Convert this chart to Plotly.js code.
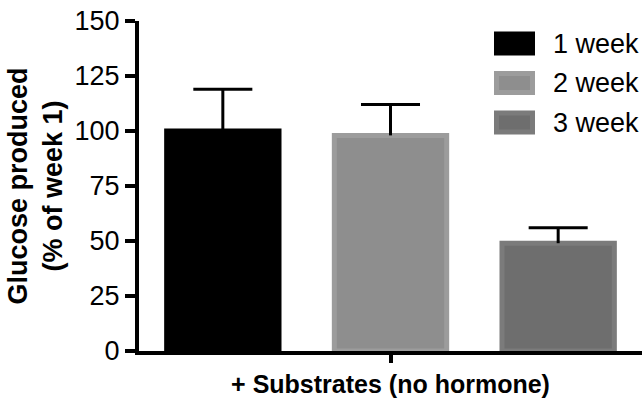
<!DOCTYPE html>
<html>
<head>
<meta charset="utf-8">
<script src="https://cdn.plot.ly/plotly-3.0.1.min.js"></script>
<style>html,body{margin:0;padding:0;background:#fff;}#chart{width:643px;height:399px;}</style>
</head>
<body>
<div id="chart"></div>
<script>
// ---- data ----
const weeks = ['1 week', '2 week', '3 week'];
const glucose = [100, 98, 49];          // % of week 1
const sem = [19, 14, 7];                // upper error
const groupLabels = ['+ Substrates (no hormone)'];
const yTickVals = [0, 25, 50, 75, 100, 125, 150];

// ---- styles ----
const FONT = '"Liberation Sans", Arial, sans-serif';
const fills = ['#000000', '#8e8e8e', '#6e6e6e'];
const borders = ['#000000', '#9c9c9c', '#7b7b7b'];
const W = 643, H = 399;
const M = {l: 139, r: 1, t: 21, b: 48};
const plotW = W - M.l - M.r, plotH = H - M.t - M.b;
const barWidth = 0.67;
const capHalf = 0.176;

const xs = weeks.map((_, i) => i);

const bars = {
  type: 'bar',
  x: xs,
  y: glucose,
  width: barWidth,
  marker: {color: fills, line: {color: borders, width: 5}},
  showlegend: false,
  hoverinfo: 'skip'
};

// error bars (upper only): stem + cap built from the data
const ex = [], ey = [];
xs.forEach((x, i) => {
  const top = glucose[i] + sem[i];
  ex.push(x, x, null, x - capHalf, x + capHalf, null);
  ey.push(glucose[i], top, null, top, top, null);
});
const errs = {
  type: 'scatter', mode: 'lines', x: ex, y: ey,
  line: {color: '#000', width: 3},
  showlegend: false, hoverinfo: 'skip', cliponaxis: false
};

// custom legend (rectangular swatches)
const px2x = p => (p - M.l) / plotW;
const px2y = p => (H - M.b - p) / plotH;
const shapes = [], annotations = [];
const legRow0 = 43.5, legStep = 39.5, swL = 494, swR = 535, swHalf = 12, inset = 2.5;
weeks.forEach((name, i) => {
  const cy = legRow0 + i * legStep;
  shapes.push({
    type: 'rect', xref: 'paper', yref: 'paper',
    x0: px2x(swL + inset), x1: px2x(swR - inset),
    y0: px2y(cy + swHalf - inset), y1: px2y(cy - swHalf + inset),
    fillcolor: fills[i], line: {color: borders[i], width: 5}
  });
  annotations.push({
    xref: 'paper', yref: 'paper', x: px2x(551), y: px2y(cy),
    xanchor: 'left', yanchor: 'middle', showarrow: false,
    text: name, font: {family: FONT, size: 27, color: '#000'}
  });
});

const layout = {
  width: W, height: H,
  margin: M,
  paper_bgcolor: '#fff', plot_bgcolor: '#fff',
  showlegend: false,
  font: {family: FONT, color: '#000'},
  xaxis: {
    range: [-0.5, 2.5],
    tickmode: 'array', tickvals: [1], ticktext: groupLabels,
    ticks: 'outside', ticklen: 8, tickwidth: 4, tickcolor: '#000',
    showline: true, linewidth: 4, linecolor: '#000',
    showgrid: false, zeroline: false, fixedrange: true,
    tickfont: {family: FONT, size: 25, color: '#000', weight: 'bold'}
  },
  yaxis: {
    range: [0, 150],
    tickmode: 'array', tickvals: yTickVals,
    ticks: 'outside', ticklen: 10, tickwidth: 4, tickcolor: '#000',
    showline: true, linewidth: 4, linecolor: '#000',
    showgrid: false, zeroline: false, fixedrange: true,
    tickfont: {family: FONT, size: 27, color: '#000'},
    title: {
      text: 'Glucose produced<br>(% of week 1)',
      font: {family: FONT, size: 27, color: '#000', weight: 'bold'},
      standoff: 5
    }
  },
  shapes: shapes,
  annotations: annotations
};

Plotly.newPlot('chart', [bars, errs], layout, {displayModeBar: false, staticPlot: true});
</script>
</body>
</html>
